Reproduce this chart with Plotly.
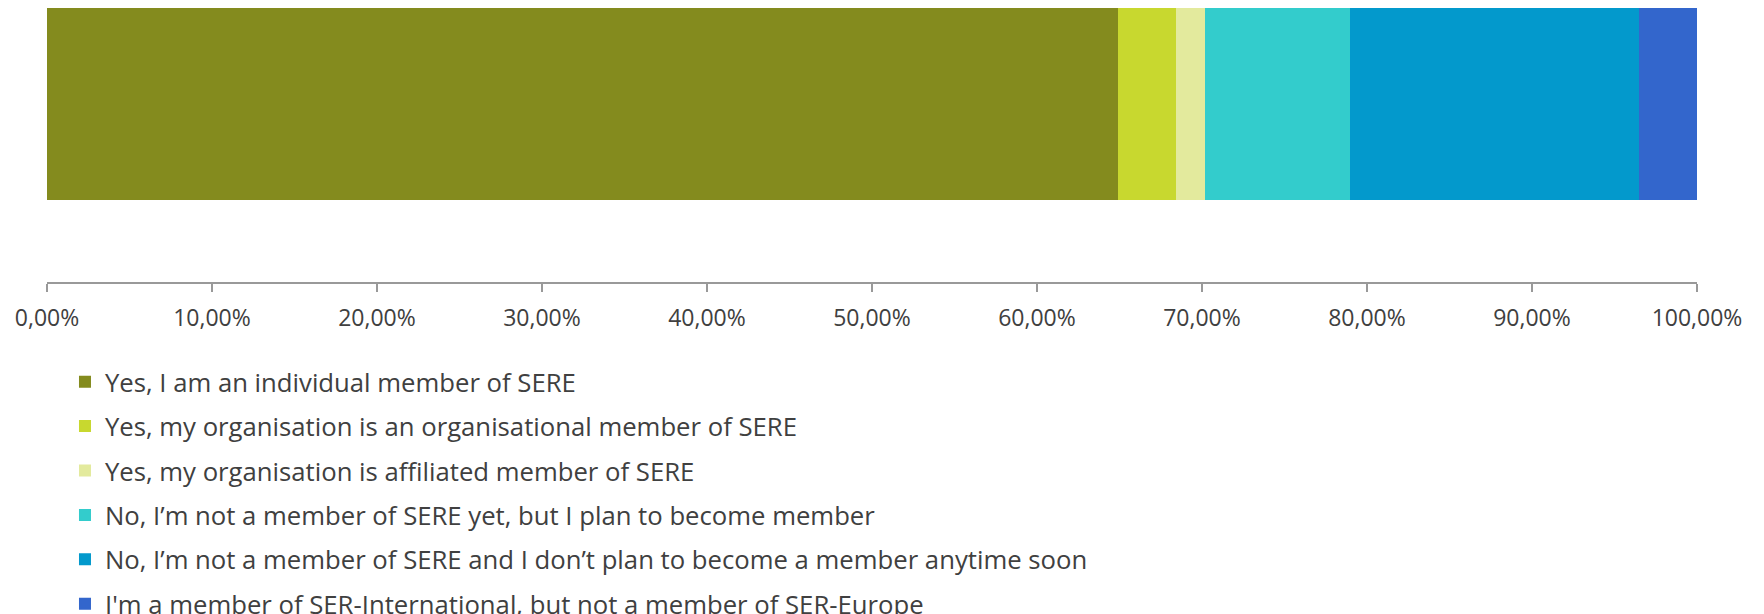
import plotly.graph_objects as go

# --- Data ---
answers = [
    "Yes, I am an individual member of SERE",
    "Yes, my organisation is an organisational member of SERE",
    "Yes, my organisation is affiliated member of SERE",
    "No, I\u2019m not a member of SERE yet, but I plan to become member",
    "No, I\u2019m not a member of SERE and I don\u2019t plan to become a member anytime soon",
    "I'm a member of SER-International, but not a member of SER-Europe",
]
shares = [64.91, 3.51, 1.75, 8.77, 17.54, 3.51]
colors = ["#848B1E", "#C8D82F", "#E3EA9D", "#33CCCC", "#0399CC", "#3366CC"]
row = [""]

fig = go.Figure()
for i, (name, val, col) in enumerate(zip(answers, shares, colors)):
    fig.add_trace(
        go.Bar(
            x=[val],
            y=row,
            name=name,
            orientation="h",
            width=1,
            marker=dict(color=col, line=dict(width=0)),
            legendgroup=str(i),
            hovertemplate="%{x:.2f}%<extra>" + name + "</extra>",
        )
    )

fig.update_xaxes(
    range=[0, 100],
    dtick=10,
    tickformat=".2f",
    ticksuffix="%",
    showgrid=False,
    zeroline=False,
    showline=True,
    linecolor="#999999",
    linewidth=2,
    ticks="outside",
    ticklen=8,
    tickwidth=2,
    tickcolor="#999999",
    ticklabelstandoff=6,
    tickfont=dict(size=23, color="#404040"),
)
fig.update_yaxes(
    range=[-0.9212, 0.4846],
    showticklabels=False,
    showgrid=False,
    zeroline=False,
    fixedrange=True,
)

fig.update_layout(
    width=1756,
    height=606,
    barmode="stack",
    separators=",.",
    plot_bgcolor="white",
    paper_bgcolor="white",
    font=dict(family="Open Sans", size=23, color="#404040"),
    # legend runs to the bottom edge, so keep it from pushing the plot up
    margin=dict(l=39, r=66.5, t=0, b=332.3, autoexpand=False),
    legend=dict(
        orientation="v",
        traceorder="grouped",
        x=0.0109,
        xanchor="left",
        y=-0.279,
        yanchor="top",
        tracegroupgap=8,
        font=dict(size=25.7, color="#404040"),
        bgcolor="rgba(0,0,0,0)",
    ),
)

fig.write_html("out.html")
